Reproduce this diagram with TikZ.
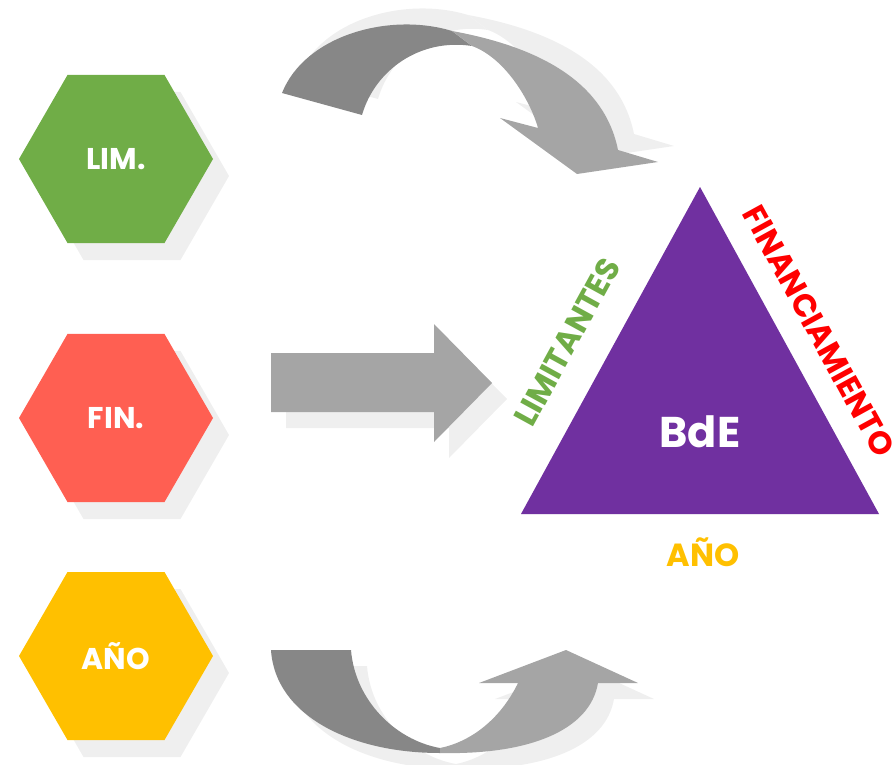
\documentclass[tikz,border=0pt]{standalone}
\usepackage{fontspec}
\setmainfont{Poppins}
\usetikzlibrary{shapes.geometric}
\definecolor{limgreen}{HTML}{70AD47}
\definecolor{fincoral}{HTML}{FF5F52}
\definecolor{anoyellow}{HTML}{FFC000}
\definecolor{bdepurple}{HTML}{7030A0}
\definecolor{finred}{HTML}{FF0000}
\definecolor{arrowdark}{HTML}{878787}
\definecolor{arrowlight}{HTML}{A5A5A5}
\definecolor{shadowgray}{HTML}{EFEFEF}

\begin{document}
\begin{tikzpicture}[x=1pt,y=-1pt,
	hexa/.style={regular polygon,regular polygon sides=6,minimum size=194pt,
		inner sep=0pt,text=white,font=\fontsize{30}{32}\selectfont\bfseries},
	sidelabel/.style={inner sep=0pt,font=\fontsize{32}{34}\selectfont\bfseries}]
\useasboundingbox (0,0) rectangle (894,765);

% hexagons on the left
\foreach \n/\y/\c/\t in {lim/159/limgreen/LIM.,fin/418/fincoral/FIN.,ano/656/anoyellow/AÑO}{
	\node[hexa,fill=shadowgray] (\n-sh) at (132,{\y+17}) {};
	\node[hexa,fill=\c] (\n) at (116,\y) {\t};
}

% arrows (shadow first)
\foreach \dx/\dy/\ca/\cb in {16/-16/shadowgray/shadowgray,0/0/arrowdark/arrowlight}{
	\fill[\ca,shift={(\dx,\dy)}] (282,93) .. controls (305,35) and (390,12) .. (452,31)
		-- (472,46) .. controls (420,38) and (375,70) .. (362,115) -- cycle;
	\fill[\cb,shift={(\dx,\dy)}] (452,31) .. controls (545,48) and (605,85) .. (618,150)
		-- (658,162) -- (577,174) -- (500,118) -- (538,128)
		.. controls (530,100) and (505,58) .. (472,46) -- cycle;
}
\foreach \dx/\dy/\c in {15/16/shadowgray,0/0/arrowlight}{
	\fill[\c,shift={(\dx,\dy)}] (271,353) -- (434,353) -- (434,324) -- (492,383)
		-- (434,442) -- (434,412) -- (271,412) -- cycle;
}
\foreach \dx/\dy/\ca/\cb in {16/16/shadowgray/shadowgray,0/0/arrowdark/arrowlight}{
	\fill[\ca,shift={(\dx,\dy)}] (271,650) -- (351,650) .. controls (355,700) and (395,740) .. (440,748)
		-- (440,753) .. controls (350,753) and (275,715) .. (271,650) -- cycle;
	\fill[\cb,shift={(\dx,\dy)}] (440,753) .. controls (530,755) and (590,730) .. (598,683)
		-- (638,683) -- (566,650) -- (479,683) -- (518,683)
		.. controls (500,720) and (470,742) .. (440,748) -- cycle;
}

% triangle
\coordinate (apex) at (700,187);
\coordinate (bl) at (521,514);
\coordinate (br) at (879,514);
\fill[shadowgray,shift={(16,16)}] (apex) -- (br) -- (bl) -- cycle;
\fill[bdepurple] (apex) -- (br) -- (bl) -- cycle;
\node[text=white,font=\fontsize{43}{46}\selectfont\bfseries] (bde) at (700,432) {BdE};

\node[sidelabel,text=limgreen,rotate=61.3] (limitantes) at (567,342) {LIMITANTES};
\node[sidelabel,text=finred,rotate=-61.3] (financiamiento) at (819,331) {FINANCIAMIENTO};
\node[sidelabel,text=anoyellow] (anolabel) at (703,552) {AÑO};

\end{tikzpicture}
\end{document}
